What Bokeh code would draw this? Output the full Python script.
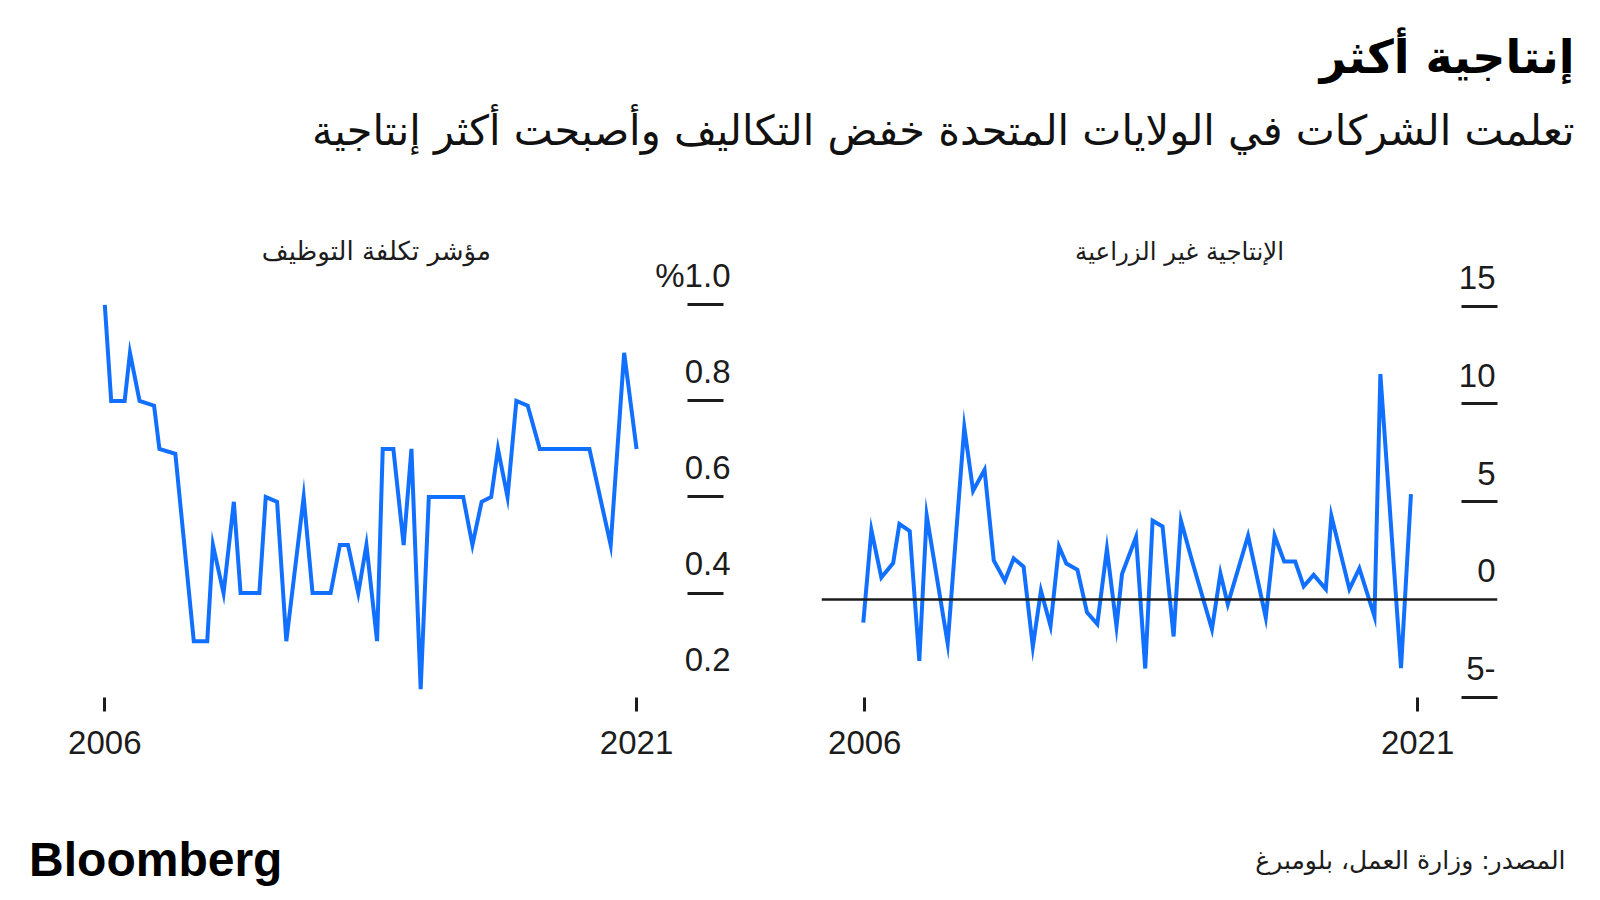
from bokeh.plotting import figure
from bokeh.models import (Range1d, Label, LabelSet, ColumnDataSource, FixedTicker, Span,
                          CustomJSTickFormatter)
from bokeh.layouts import column, row
from bokeh.embed import file_html
from bokeh.resources import INLINE
from bokeh.core.properties import value

# ---------------- texts ----------------
TITLE = "إنتاجية أكثر"
SUBTITLE = "تعلمت الشركات في الولايات المتحدة خفض التكاليف وأصبحت أكثر إنتاجية"
LEFT_TITLE = "مؤشر تكلفة التوظيف"
RIGHT_TITLE = "الإنتاجية غير الزراعية"
SOURCE = "المصدر: وزارة العمل، بلومبرغ"
BRAND = "Bloomberg"

# ---------------- data ----------------
eci_dates = [2006.00, 2006.18, 2006.56, 2006.71, 2006.98, 2007.39, 2007.54, 2007.99,
             2008.51, 2008.89, 2009.05, 2009.35, 2009.64, 2009.83, 2010.36, 2010.54,
             2010.86, 2011.12, 2011.61, 2011.86, 2012.37, 2012.63, 2012.86, 2013.15,
             2013.38, 2013.68, 2013.84, 2014.14, 2014.43, 2014.65, 2014.91, 2015.14,
             2016.11, 2016.37, 2016.63, 2016.90, 2017.09, 2017.36, 2017.61, 2017.93,
             2018.27, 2019.67, 2020.27, 2020.65, 2021.00]
eci_values = [1.0, 0.8, 0.8, 0.9, 0.8, 0.79, 0.7, 0.69,
              0.3, 0.3, 0.5, 0.4, 0.59, 0.4, 0.4, 0.6,
              0.59, 0.3, 0.6, 0.4, 0.4, 0.5, 0.5, 0.4,
              0.5, 0.3, 0.7, 0.7, 0.5, 0.7, 0.2, 0.6,
              0.6, 0.5, 0.59, 0.6, 0.7, 0.6, 0.8, 0.79,
              0.7, 0.7, 0.5, 0.9, 0.7]

prod_dates = [2005.96, 2006.18, 2006.45, 2006.77, 2006.94, 2007.22, 2007.48, 2007.68,
              2008.25, 2008.70, 2008.94, 2009.25, 2009.50, 2009.80, 2010.04, 2010.31,
              2010.56, 2010.78, 2011.04, 2011.27, 2011.47, 2011.77, 2012.03, 2012.31,
              2012.57, 2012.83, 2012.98, 2013.36, 2013.61, 2013.81, 2014.08, 2014.38,
              2014.58, 2014.88, 2015.42, 2015.65, 2015.85, 2016.40, 2016.88, 2017.12,
              2017.38, 2017.68, 2017.91, 2018.18, 2018.51, 2018.66, 2019.15, 2019.42,
              2019.83, 2019.99, 2020.55, 2020.82]
prod_values = [-1.18, 3.55, 1.13, 1.86, 3.86, 3.5, -3.14, 4.3,
               -2.25, 8.8, 5.56, 6.63, 2.0, 0.96, 2.1, 1.67,
               -2.42, 0.45, -1.35, 2.71, 1.84, 1.52, -0.66, -1.26,
               2.58, -1.38, 1.3, 3.2, -3.53, 4.03, 3.73, -1.89,
               4.03, 1.98, -1.52, 1.33, -0.24, 3.26, -0.92, 3.26,
               1.94, 1.94, 0.67, 1.26, 0.53, 4.28, 0.53, 1.59,
               -0.87, 11.53, -3.51, 5.39]

year_ticks = [2006, 2021]
eci_ticks = [0.2, 0.4, 0.6, 0.8, 1.0]
eci_tick_labels = ["0.2", "0.4", "0.6", "0.8", "%1.0"]
eci_dash_ticks = [0.4, 0.6, 0.8, 1.0]
prod_ticks = [-5, 0, 5, 10, 15]
prod_tick_labels = ["5-", "0", "5", "10", "15"]
prod_dash_ticks = [-5, 5, 10, 15]

# ---------------- style ----------------
BLUE = "#1170ff"
INK = "#1c1c1c"
NUM_FONT = "Liberation Sans"
AR_FONT = "DejaVu Sans"
NUM_SIZE = "33px"


def canvas(w, h):
    p = figure(width=w, height=h, x_range=Range1d(0, w), y_range=Range1d(h, 0),
               output_backend="svg", toolbar_location=None,
               x_axis_location=None, y_axis_location=None, min_border=0)
    p.grid.visible = False
    p.outline_line_color = None
    return p


def panel(width, xr, yr, left, right, dash_ticks, tick_in, tick_out):
    p = figure(width=width, height=580, x_range=xr, y_range=yr,
               output_backend="svg", toolbar_location=None,
               y_axis_location="right",
               min_border_left=left, min_border_right=right,
               min_border_top=25, min_border_bottom=83)
    p.grid.visible = False
    p.outline_line_color = None
    xa = p.xaxis[0]
    xa.ticker = FixedTicker(ticks=year_ticks)
    xa.axis_line_color = None
    xa.major_tick_in = 0
    xa.major_tick_out = 14
    xa.major_tick_line_width = 3
    xa.major_tick_line_color = INK
    xa.minor_tick_line_color = None
    xa.major_label_text_font = NUM_FONT
    xa.major_label_text_font_size = NUM_SIZE
    xa.major_label_text_color = INK
    xa.major_label_standoff = 19
    ya = p.yaxis[0]
    ya.ticker = FixedTicker(ticks=dash_ticks)
    ya.formatter = CustomJSTickFormatter(code="return ''")
    ya.axis_line_color = None
    ya.major_tick_in = tick_in
    ya.major_tick_out = tick_out
    ya.major_tick_line_width = 3
    ya.major_tick_line_color = INK
    ya.minor_tick_line_color = None
    return p


# ---------------- header ----------------
header = canvas(1592, 200)
header.add_layout(Label(x=1574, y=56, text=TITLE, text_align="right", text_baseline="middle",
                        text_font=AR_FONT, text_font_style="bold", text_font_size="46px",
                        text_color="#000000"))
header.add_layout(Label(x=1574, y=130, text=SUBTITLE, text_align="right", text_baseline="middle",
                        text_font=AR_FONT, text_font_size="41.5px", text_color="#111111"))

# ---------------- left panel ----------------
lx = Range1d(2004.186, 2023.791)
ly = Range1d(0.1827, 1.165)
left = panel(760, lx, ly, 40, 25, eci_dash_ticks, 48, -12)
left.line(eci_dates, eci_values, line_color=BLUE, line_width=4, line_join="miter")
left_src = ColumnDataSource(dict(x=[lx.end] * len(eci_ticks), y=eci_ticks, text=eci_tick_labels))
left.add_layout(LabelSet(x="x", y="y", text="text", source=left_src, text_align="right",
                         text_baseline="alphabetic", x_offset=-5, y_offset=18,
                         text_font=value(NUM_FONT), text_font_size=NUM_SIZE, text_color=INK))
left.add_layout(Label(x=2013.66, y=1.111, text=LEFT_TITLE, text_align="center",
                      text_baseline="middle", text_font=AR_FONT, text_font_size="26px",
                      text_color=INK))

# ---------------- right panel ----------------
rx = Range1d(2004.826, 2023.168)
ry = Range1d(-5.013, 19.13)
right = panel(832, rx, ry, 61, 95, prod_dash_ticks, 36, 0)
right.add_layout(Span(location=0, dimension="width", line_color=INK, line_width=2.5))
right.line(prod_dates, prod_values, line_color=BLUE, line_width=4, line_join="miter")
right_src = ColumnDataSource(dict(x=[rx.end] * len(prod_ticks), y=prod_ticks, text=prod_tick_labels))
right.add_layout(LabelSet(x="x", y="y", text="text", source=right_src, text_align="right",
                          text_baseline="alphabetic", x_offset=-2, y_offset=17,
                          text_font=value(NUM_FONT), text_font_size=NUM_SIZE, text_color=INK))
right.add_layout(Label(x=2014.54, y=17.8, text=RIGHT_TITLE, text_align="center",
                       text_baseline="middle", text_font=AR_FONT, text_font_size="24.5px",
                       text_color=INK))

# ---------------- footer ----------------
footer = canvas(1592, 112)
footer.add_layout(Label(x=28.6, y=79, text=BRAND, text_align="left", text_baseline="middle",
                        text_font=NUM_FONT, text_font_style="bold", text_font_size="48px",
                        text_color="#000000"))
footer.add_layout(Label(x=1565, y=80, text=SOURCE, text_align="right", text_baseline="middle",
                        text_font=AR_FONT, text_font_size="25px", text_color=INK))

layout = column(header, row(left, right), footer)
open("out.html", "w").write(file_html(layout, INLINE))
